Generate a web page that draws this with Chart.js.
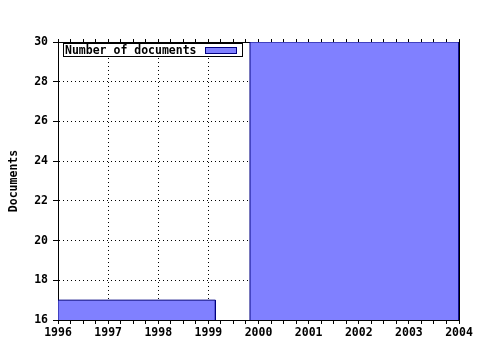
<!DOCTYPE html>
<html>
<head>
<meta charset="utf-8">
<script src="https://cdn.jsdelivr.net/npm/chart.js@4.4.1/dist/chart.umd.min.js"></script>
<style>
html,body{margin:0;padding:0;background:#fff;}
#wrap{width:480px;height:350px;position:relative;}
</style>
</head>
<body>
<div id="wrap"><canvas id="c" width="480" height="350"></canvas></div>
<script>
// ---- data ----
const seriesName = "Number of documents";
const binStarts = [1996, 1999.83];
const binEnds = [1999.14, 2004];
const documentCounts = [17, 30];
const xTickYears = [1996, 1997, 1998, 1999, 2000, 2001, 2002, 2003, 2004];
const yTickValues = [16, 18, 20, 22, 24, 26, 28, 30];
const yTitle = "Documents";

const X_MIN = xTickYears[0], X_MAX = xTickYears[xTickYears.length - 1];
const Y_MIN = yTickValues[0], Y_MAX = yTickValues[yTickValues.length - 1];
const FONT = {family: "'DejaVu Sans Mono', monospace", size: 11.5, weight: 'bold'};
const FILL = '#8080ff';
const EDGE = '#000080';

function boxPoints(i) {
  return [
    {x: binStarts[i], y: Y_MIN},
    {x: binStarts[i], y: documentCounts[i]},
    {x: binEnds[i], y: documentCounts[i]},
    {x: binEnds[i], y: Y_MIN}
  ];
}

const datasets = documentCounts.map((v, i) => ({
  label: seriesName,
  data: boxPoints(i),
  showLine: true,
  fill: 'origin',
  backgroundColor: FILL,
  borderColor: EDGE,
  borderWidth: 1,
  pointRadius: 0,
  tension: 0
}));

const isInt = v => Math.abs(v - Math.round(v)) < 1e-6;

// key box drawn inside the plot, gnuplot style: text, then sample swatch, framed
const insideKey = {
  id: 'insideKey',
  afterDraw(chart) {
    const a = chart.chartArea;
    const ctx = chart.ctx;
    const ds = chart.data.datasets[0];
    const x0 = a.left + 5.5, y0 = a.top + 1.5;
    ctx.save();
    ctx.font = `${FONT.weight} ${FONT.size}px ${FONT.family}`;
    const tw = ctx.measureText(ds.label).width;
    const sx = Math.round(x0 + 1.5 + tw + 8) + 0.5;
    const w = Math.round(sx + 37 - x0);
    ctx.fillStyle = '#fff';
    ctx.fillRect(x0, y0, w, 13);
    ctx.textBaseline = 'middle';
    ctx.textAlign = 'left';
    ctx.fillStyle = '#000';
    ctx.fillText(ds.label, x0 + 1.5, y0 + 7.5);
    ctx.fillStyle = ds.backgroundColor;
    ctx.fillRect(sx, y0 + 4, 31, 6);
    ctx.strokeStyle = ds.borderColor;
    ctx.lineWidth = 1;
    ctx.strokeRect(sx, y0 + 4, 31, 6);
    ctx.strokeStyle = '#000';
    ctx.strokeRect(x0, y0, w, 13);
    ctx.restore();
  }
};

new Chart(document.getElementById('c'), {
  type: 'scatter',
  data: {datasets},
  plugins: [insideKey],
  options: {
    responsive: false,
    animation: false,
    layout: {padding: 0},
    plugins: {
      tooltip: {enabled: false},
      legend: {display: false}
    },
    scales: {
      x: {
        type: 'linear',
        position: 'bottom',
        min: X_MIN, max: X_MAX,
        afterFit(s) { s.height = 30; },
        afterBuildTicks(s) {
          const t = [];
          for (let k = 0; k <= (X_MAX - X_MIN) * 4; k++) t.push({value: X_MIN + k / 4});
          s.ticks = t;
        },
        ticks: {
          autoSkip: false, maxRotation: 0, color: '#000', font: FONT, padding: 2,
          callback: v => isInt(v) && xTickYears.includes(Math.round(v)) ? String(Math.round(v)) : ''
        },
        grid: {
          color: c => (c.tick && isInt(c.tick.value) && c.tick.value > X_MIN && c.tick.value < X_MAX) ? '#000' : 'rgba(0,0,0,0)',
          tickColor: '#000',
          tickLength: 4,
          lineWidth: 1
        },
        border: {display: true, color: '#000', width: 1, dash: [1, 3]}
      },
      xTop: {
        type: 'linear',
        axis: 'x',
        position: 'top',
        min: X_MIN, max: X_MAX,
        afterFit(s) { s.height = 42; },
        afterBuildTicks(s) {
          const t = [];
          for (let k = 0; k <= (X_MAX - X_MIN) * 4; k++) t.push({value: X_MIN + k / 4});
          s.ticks = t;
        },
        ticks: {display: false},
        grid: {drawOnChartArea: false, tickColor: '#000', tickLength: 3},
        border: {display: true, color: '#000', width: 1}
      },
      y: {
        type: 'linear',
        position: 'left',
        min: Y_MIN, max: Y_MAX,
        afterFit(s) { s.width = 58; },
        afterBuildTicks(s) { s.ticks = yTickValues.map(v => ({value: v})); },
        ticks: {color: '#000', font: FONT, padding: 5},
        title: {display: true, text: yTitle, color: '#000', font: FONT, padding: {top: 7, bottom: 0}},
        grid: {
          color: c => (c.tick && c.tick.value > Y_MIN && c.tick.value < Y_MAX) ? '#000' : 'rgba(0,0,0,0)',
          tickColor: '#000',
          tickLength: 5,
          lineWidth: 1
        },
        border: {display: true, color: '#000', width: 1, dash: [1, 3]}
      },
      yRight: {
        type: 'linear',
        axis: 'y',
        position: 'right',
        min: Y_MIN, max: Y_MAX,
        afterFit(s) { s.width = 21; },
        ticks: {display: false},
        grid: {drawOnChartArea: false, drawTicks: false},
        border: {display: true, color: '#000', width: 1}
      }
    }
  }
});
</script>
</body>
</html>
